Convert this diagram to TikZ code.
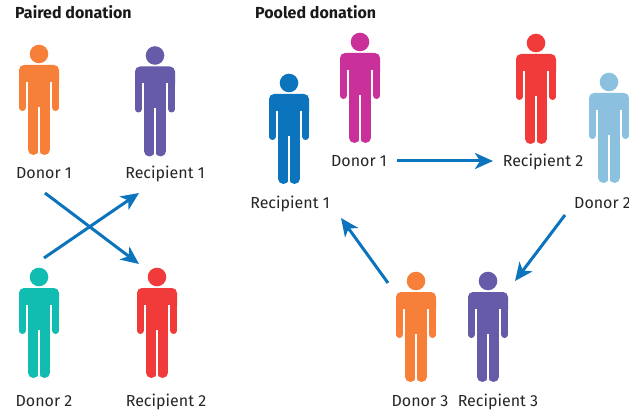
\documentclass[tikz,border=0pt]{standalone}
\usepackage{fontspec}
\setmainfont{Fira Sans}
\usetikzlibrary{arrows.meta}
\definecolor{orangeperson}{HTML}{F6803A}
\definecolor{purpleperson}{HTML}{655BA8}
\definecolor{tealperson}{HTML}{10BDB0}
\definecolor{redperson}{HTML}{F13A3A}
\definecolor{blueperson}{HTML}{0B74BC}
\definecolor{pinkperson}{HTML}{C9309A}
\definecolor{skyperson}{HTML}{8BC1DF}
\definecolor{arrowblue}{HTML}{0B74BC}
\tikzset{
	pics/person/.style={code={
		\fill[#1] (0,0) circle (9.3);
		\fill[#1, rounded corners=5] (-20,11) rectangle (20,34);
		\fill[#1] (-11,20) rectangle (11,62);
		\draw[#1, line width=6.6, line cap=round] (-16.7,20) -- (-16.7,53.7);
		\draw[#1, line width=6.6, line cap=round] (16.7,20) -- (16.7,53.7);
		\draw[#1, line width=10.6, line cap=round] (-5.6,55) -- (-5.6,95.7);
		\draw[#1, line width=10.6, line cap=round] (5.6,55) -- (5.6,95.7);
		\draw[white, line width=1.6] (-12.2,28) -- (-12.2,60);
		\draw[white, line width=1.6] (12.2,28) -- (12.2,60);
		\draw[white, line width=1.2] (0,53) -- (0,102);
	}},
	namelabel/.style={font=\fontsize{16}{18}\selectfont, text=black!85, inner sep=0pt, anchor=base},
	titlelabel/.style={font=\fontsize{16}{18}\selectfont\bfseries, text=black!90, inner sep=0pt, anchor=base west},
	flow/.style={draw=arrowblue, line width=3, -{Stealth[length=18pt, width=16pt, inset=5pt]}}
}
\begin{document}
\begin{tikzpicture}[x=1pt, y=-1pt]
	\useasboundingbox (0,0) rectangle (629,414);
	\fill[white] (0,0) rectangle (629,414);
	%
	\node (paired) [titlelabel] at (15,18.7) {Paired donation};
	\node (pooled) [titlelabel] at (255,18.7) {Pooled donation};
	%
	\pic at (39,54) {person=orangeperson};
	\pic at (155,55.5) {person=purpleperson};
	\pic at (39,277) {person=tealperson};
	\pic at (157,277) {person=redperson};
	\node (d1) [namelabel] at (44,179) {Donor 1};
	\node (r1) [namelabel] at (165,179) {Recipient 1};
	\node (d2) [namelabel] at (44,406) {Donor 2};
	\node (r2) [namelabel] at (166,406) {Recipient 2};
	%
	\pic at (360,42) {person=pinkperson};
	\pic at (536,43) {person=redperson};
	\pic at (289,83) {person=blueperson};
	\pic at (609,82) {person=skyperson};
	\pic at (416,281) {person=orangeperson};
	\pic at (488,281) {person=purpleperson};
	\node (pd1) [namelabel] at (359,167) {Donor 1};
	\node (pr2) [namelabel] at (543,167) {Recipient 2};
	\node (pr1) [namelabel] at (290,208) {Recipient 1};
	\node (pd2) [namelabel, anchor=base west] at (574,208) {Donor 2};
	\node (pd3) [namelabel] at (420,406) {Donor 3};
	\node (pr3) [namelabel] at (498,406) {Recipient 3};
	%
	\coordinate (a1) at (45,193);
	\coordinate (a2) at (139,264);
	\coordinate (b1) at (44,258);
	\coordinate (b2) at (139,193);
	\coordinate (c1) at (397,161);
	\coordinate (c2) at (493,161);
	\coordinate (e1) at (565,215);
	\coordinate (e2) at (515,281);
	\coordinate (f1) at (388,283);
	\coordinate (f2) at (341,218);
	\draw[flow] (a1) -- (a2);
	\draw[flow] (b1) -- (b2);
	\draw[flow] (c1) -- (c2);
	\draw[flow] (e1) -- (e2);
	\draw[flow] (f1) -- (f2);
\end{tikzpicture}
\end{document}
